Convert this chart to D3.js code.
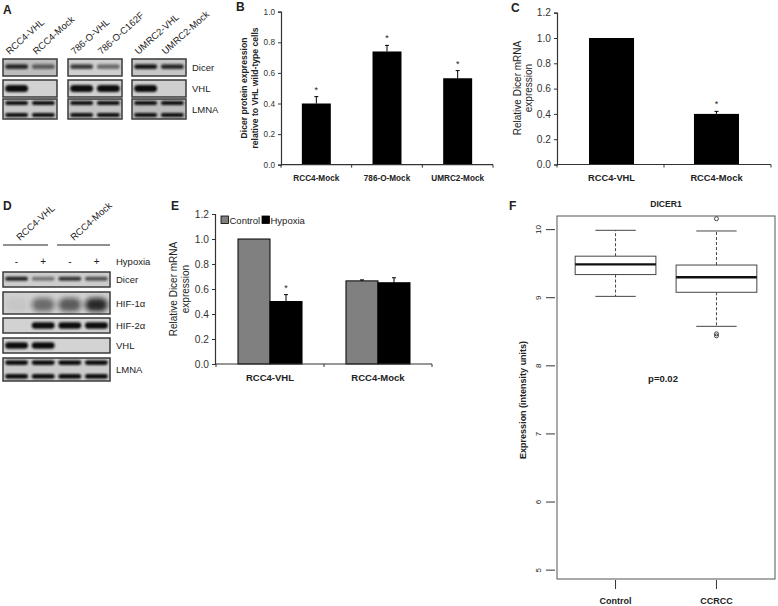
<!DOCTYPE html>
<html><head><meta charset="utf-8">
<script src="https://cdn.jsdelivr.net/npm/d3@7"></script>
<style>
body{margin:0;background:#fff}
svg{display:block}
text{font-family:"Liberation Sans",Arial,Helvetica,sans-serif;fill:#222}
</style>
</head><body>
<svg id="c" width="778" height="606"></svg>
<script>
// ---------------- DATA ----------------
const laneLabelsA = ["RCC4-VHL","RCC4-Mock","786-O-VHL","786-O-C162F","UMRC2-VHL","UMRC2-Mock"];
const blotRowsA = ["Dicer","VHL","LMNA"];
const dicerBandsA = [0.85,0.55,0.75,0.5,0.95,0.85];
const vhlBandsA = [1,0,1,1,1,0];
const lmnaBandsA = [1,1,1,1,1,1];

const catsB = ["RCC4-Mock","786-O-Mock","UMRC2-Mock"];
const valsB = [0.40,0.74,0.565];
const errB = [0.045,0.04,0.05];
const ticksB = [0,0.2,0.4,0.6,0.8,1.0];

const catsC = ["RCC4-VHL","RCC4-Mock"];
const valsC = [1.0,0.40];
const errC = [0,0.02];
const ticksC = [0,0.2,0.4,0.6,0.8,1.0,1.2];

const groupsD = ["RCC4-VHL","RCC4-Mock"];
const hypoxiaD = ["-","+","-","+"];
const blotRowsD = ["Dicer","HIF-1\u03b1","HIF-2\u03b1","VHL","LMNA"];
const dicerBandsD = [0.9,0.45,0.8,0.65];
const hif1BandsD = [0.06,0.6,0.7,1.0];
const hif2BandsD = [0,1,1,1];
const vhlBandsD = [1,1,0,0];
const lmnaBandsD = [1,1,1,1];

const catsE = ["RCC4-VHL","RCC4-Mock"];
const seriesE = ["Control","Hypoxia"];
const controlE = [1.0,0.665];
const hypoxiaE = [0.50,0.65];
const controlErrE = [0,0.008];
const hypoxiaErrE = [0.055,0.04];
const ticksE = [0,0.2,0.4,0.6,0.8,1.0,1.2];

const groupsF = ["Control","CCRCC"];
const whiskerLowF = [9.02,8.58];
const q1F = [9.34,9.08];
const medianF = [9.49,9.30];
const q3F = [9.61,9.48];
const whiskerHighF = [9.99,9.98];
const outliersF = [[],[10.16,8.47,8.44]];
const ticksF = [5,6,7,8,9,10];

// ---------------- SETUP ----------------
const svg = d3.select("#c");
const defs = svg.append("defs");
defs.append("filter").attr("id","blur").attr("x","-30%").attr("y","-100%").attr("width","160%").attr("height","300%")
  .append("feGaussianBlur").attr("stdDeviation",0.9);
defs.append("filter").attr("id","smear").attr("x","-30%").attr("y","-100%").attr("width","160%").attr("height","300%")
  .append("feGaussianBlur").attr("stdDeviation",2.6);

function label(g,x,y,s,size,opt={}){
  const t=g.append("text").attr("x",x).attr("y",y).text(s).attr("font-size",size)
    .attr("text-anchor",opt.anchor||"start");
  if(opt.bold) t.attr("font-weight","bold");
  if(opt.rotate!==undefined) t.attr("transform",`rotate(${opt.rotate},${x},${y})`);
  return t;
}

let clipN=0;
function blot(g,x0,x1,y0,y1,vals,kind,bg){
  const id="clip"+(clipN++);
  defs.append("clipPath").attr("id",id).append("rect")
    .attr("x",x0).attr("y",y0).attr("width",x1-x0).attr("height",y1-y0);
  g.append("rect").attr("x",x0).attr("y",y0).attr("width",x1-x0).attr("height",y1-y0).attr("fill",bg);
  const lanes=d3.scaleBand().domain(d3.range(vals.length)).range([x0,x1]).paddingInner(0.14).paddingOuter(0.08);
  const inner=g.append("g").attr("clip-path",`url(#${id})`);
  const h=y1-y0;
  const spec = kind==="double" ? [[0.2,0.2],[0.8,0.2]]
             : kind==="smear" ? [[0.58,0.62]]
             : kind==="thin" ? [[0.45,0.28]] : [[0.5,0.42]];
  vals.forEach((v,i)=>{
    if(v<=0) return;
    spec.forEach(([cy,hf])=>{
      const bh=hf*h;
      inner.append("rect").attr("x",lanes(i)).attr("width",lanes.bandwidth())
        .attr("y",y0+cy*h-bh/2).attr("height",bh).attr("rx",bh/2)
        .attr("fill","#111").attr("opacity",kind==="smear"?v*0.85:v)
        .attr("filter",kind==="smear"?"url(#smear)":"url(#blur)");
    });
  });
  g.append("rect").attr("x",x0).attr("y",y0).attr("width",x1-x0).attr("height",y1-y0)
    .attr("fill","none").attr("stroke","#3a3a3a").attr("stroke-width",1.5);
}

function yAxis(g,y,ticks,x,size,fmt){
  const ax=d3.axisLeft(y).tickValues(ticks).tickFormat(fmt||d3.format(".1f")).tickSize(3).tickPadding(3);
  const a=g.append("g").attr("transform",`translate(${x},0)`).call(ax);
  a.selectAll("text").attr("font-size",size).style("fill","#333");
  a.select(".domain").attr("stroke","#333").attr("stroke-width",1.2);
  a.selectAll(".tick line").attr("stroke","#333");
  return a;
}
function xBaseline(g,xb,y0){
  const r=xb.range();
  const n=xb.domain().length;
  g.append("line").attr("x1",r[0]).attr("x2",r[1]).attr("y1",y0).attr("y2",y0).attr("stroke","#333").attr("stroke-width",1.2);
  const bounds=d3.range(n+1).map(i=>r[0]+(r[1]-r[0])*i/n);
  g.selectAll(null).data(bounds).enter().append("line")
    .attr("x1",d=>d).attr("x2",d=>d).attr("y1",y0).attr("y2",y0+3).attr("stroke","#333");
}

// ---------------- PANEL A ----------------
const gA=svg.append("g");
label(gA,3,14,"A",12,{bold:true});
const boxesA=[[3,57],[68,122],[132,186]];
const rowsA=[[59,76],[80,97],[99,119]];
const bgA=[["#bdbdbd","#cfcfcf","#c6c6c6"],["#d2d2d2","#d0d0d0","#cfcfcf"],["#c9c9c9","#c4c4c4","#bcbcbc"]];
const bandSetsA=[dicerBandsA,vhlBandsA,lmnaBandsA];
const kindsA=["thin","single","double"];
rowsA.forEach((r,ri)=>{
  boxesA.forEach((b,bi)=>{
    blot(gA,b[0],b[1],r[0],r[1],bandSetsA[ri].slice(bi*2,bi*2+2),kindsA[ri],bgA[ri][bi]);
  });
  label(gA,192,(r[0]+r[1])/2+3.5,blotRowsA[ri],9.5);
});
laneLabelsA.forEach((s,i)=>{
  const b=boxesA[Math.floor(i/2)];
  const cx=b[0]+(b[1]-b[0])*(i%2===0?0.25:0.75);
  label(gA,cx-7,55,s,9.5,{rotate:-42});
});

// ---------------- PANEL B ----------------
const gB=svg.append("g");
label(gB,236,11,"B",12,{bold:true});
const yB=d3.scaleLinear().domain([0,1]).range([164.7,11.7]);
const xB=d3.scaleBand().domain(catsB).range([281,493]).paddingInner(0.59).paddingOuter(0.295);
gB.selectAll(".barB").data(catsB).enter().append("rect")
  .attr("x",d=>xB(d)).attr("width",xB.bandwidth())
  .attr("y",(d,i)=>yB(valsB[i])).attr("height",(d,i)=>yB(0)-yB(valsB[i])).attr("fill","#000");
catsB.forEach((c,i)=>{
  const cx=xB(c)+xB.bandwidth()/2, top=yB(valsB[i]+errB[i]);
  gB.append("line").attr("x1",cx).attr("x2",cx).attr("y1",yB(valsB[i])).attr("y2",top).attr("stroke","#000");
  gB.append("line").attr("x1",cx-2).attr("x2",cx+2).attr("y1",top).attr("y2",top).attr("stroke","#000");
  label(gB,cx,top-4,"*",9,{anchor:"middle"});
  label(gB,cx,181,c,8.2,{anchor:"middle",bold:true});
});
yAxis(gB,yB,ticksB,281,8.2);
xBaseline(gB,xB,yB(0));
label(gB,246.5,88,"Dicer protein expression",8.6,{anchor:"middle",bold:true,rotate:-90});
label(gB,257.5,88,"relative to VHL wild-type cells",8.6,{anchor:"middle",bold:true,rotate:-90});

// ---------------- PANEL C ----------------
const gC=svg.append("g");
label(gC,511,12,"C",12,{bold:true});
const yC=d3.scaleLinear().domain([0,1.2]).range([164.5,12.7]);
const xC=d3.scaleBand().domain(catsC).range([557,771]).paddingInner(0.571).paddingOuter(0.305);
gC.selectAll(".barC").data(catsC).enter().append("rect")
  .attr("x",d=>xC(d)).attr("width",xC.bandwidth())
  .attr("y",(d,i)=>yC(valsC[i])).attr("height",(d,i)=>yC(0)-yC(valsC[i])).attr("fill","#000");
catsC.forEach((c,i)=>{
  const cx=xC(c)+xC.bandwidth()/2;
  if(errC[i]>0){
    const top=yC(valsC[i]+errC[i]);
    gC.append("line").attr("x1",cx).attr("x2",cx).attr("y1",yC(valsC[i])).attr("y2",top).attr("stroke","#000");
    gC.append("line").attr("x1",cx-2).attr("x2",cx+2).attr("y1",top).attr("y2",top).attr("stroke","#000");
    label(gC,cx,top-4,"*",9,{anchor:"middle"});
  }
  label(gC,cx,181,c,9.3,{anchor:"middle",bold:true});
});
yAxis(gC,yC,ticksC,557,10.2);
xBaseline(gC,xC,yC(0));
label(gC,521,88,"Relative Dicer mRNA",10,{anchor:"middle",rotate:-90});
label(gC,532,88,"expression",10,{anchor:"middle",rotate:-90});

// ---------------- PANEL D ----------------
const gD=svg.append("g");
label(gD,3,210,"D",12,{bold:true});
const xD0=3,xD1=110;
const lanesD=d3.scaleBand().domain(d3.range(hypoxiaD.length)).range([xD0,xD1]);
const rowsD=[[272,287],[292,314],[318,333],[338,353],[358,381]];
const bandSetsD=[dicerBandsD,hif1BandsD,hif2BandsD,vhlBandsD,lmnaBandsD];
const kindsD=["thin","smear","single","single","double"];
const bgD=["#cdcdcd","#d0d0d0","#d2d2d2","#d3d3d3","#cbcbcb"];
rowsD.forEach((r,ri)=>{
  blot(gD,xD0,xD1,r[0],r[1],bandSetsD[ri],kindsD[ri],bgD[ri]);
  label(gD,116,(r[0]+r[1])/2+3.5,blotRowsD[ri],9.5);
});
hypoxiaD.forEach((s,i)=>{
  label(gD,lanesD(i)+lanesD.bandwidth()/2,265,s,10,{anchor:"middle"});
});
label(gD,116,265,"Hypoxia",9.5);
const groupLinesD=[[3,48],[57,110]];
groupsD.forEach((s,i)=>{
  const gl=groupLinesD[i];
  gD.append("line").attr("x1",gl[0]).attr("x2",gl[1]).attr("y1",245).attr("y2",245).attr("stroke","#222").attr("stroke-width",1.2);
  label(gD,gl[0]+17,241,s,9.5,{rotate:-42});
});

// ---------------- PANEL E ----------------
const gE=svg.append("g");
label(gE,171,210,"E",12,{bold:true});
const yE=d3.scaleLinear().domain([0,1.2]).range([364,214]);
const xE=d3.scaleBand().domain(catsE).range([216,432]).paddingInner(0.407).paddingOuter(0.2037);
const xE2=d3.scaleBand().domain(seriesE).range([0,xE.bandwidth()]);
const colorsE={"Control":"#808080","Hypoxia":"#000"};
const valsE={"Control":controlE,"Hypoxia":hypoxiaE};
const errsE={"Control":controlErrE,"Hypoxia":hypoxiaErrE};
catsE.forEach((c,i)=>{
  seriesE.forEach(s=>{
    const v=valsE[s][i], x=xE(c)+xE2(s);
    gE.append("rect").attr("x",x).attr("width",xE2.bandwidth()).attr("y",yE(v)).attr("height",yE(0)-yE(v))
      .attr("fill",colorsE[s]).attr("stroke","#000").attr("stroke-width",1);
    const e=errsE[s][i];
    if(e>0){
      const cx=x+xE2.bandwidth()/2, top=yE(v+e);
      gE.append("line").attr("x1",cx).attr("x2",cx).attr("y1",yE(v)).attr("y2",top).attr("stroke","#000");
      gE.append("line").attr("x1",cx-2).attr("x2",cx+2).attr("y1",top).attr("y2",top).attr("stroke","#000");
    }
  });
  label(gE,xE(c)+xE.bandwidth()/2,381,c,9.5,{anchor:"middle",bold:true});
});
{
  const cx=xE("RCC4-VHL")+xE2("Hypoxia")+xE2.bandwidth()/2;
  label(gE,cx,yE(hypoxiaE[0]+hypoxiaErrE[0])-4,"*",9,{anchor:"middle"});
}
yAxis(gE,yE,ticksE,215,10.2);
xBaseline(gE,xE,yE(0));
label(gE,177,289,"Relative Dicer mRNA",10,{anchor:"middle",rotate:-90});
label(gE,188.5,289,"expression",10,{anchor:"middle",rotate:-90});
// legend
const legX=[221,262];
seriesE.forEach((s,i)=>{
  gE.append("rect").attr("x",legX[i]).attr("y",216).attr("width",7.5).attr("height",7.5)
    .attr("fill",colorsE[s]).attr("stroke","#000").attr("stroke-width",0.8);
  label(gE,legX[i]+8.5,224,s,9.5);
});

// ---------------- PANEL F ----------------
const gF=svg.append("g");
label(gF,509,210,"F",12,{bold:true});
const yF=d3.scaleLinear().domain([4.87,10.2]).range([579,216]);
const xF=d3.scaleLinear().domain([0.42,2.58]).range([557,775]);
gF.append("rect").attr("x",557).attr("y",216).attr("width",218).attr("height",363)
  .attr("fill","none").attr("stroke","#555").attr("stroke-width",1);
const bw=(xF(1.4)-xF(1));
groupsF.forEach((gname,i)=>{
  const cx=xF(i+1);
  gF.append("line").attr("x1",cx).attr("x2",cx).attr("y1",yF(q3F[i])).attr("y2",yF(whiskerHighF[i]))
    .attr("stroke","#444").attr("stroke-dasharray","3,2");
  gF.append("line").attr("x1",cx).attr("x2",cx).attr("y1",yF(q1F[i])).attr("y2",yF(whiskerLowF[i]))
    .attr("stroke","#444").attr("stroke-dasharray","3,2");
  [whiskerHighF[i],whiskerLowF[i]].forEach(v=>{
    gF.append("line").attr("x1",cx-bw/2).attr("x2",cx+bw/2).attr("y1",yF(v)).attr("y2",yF(v)).attr("stroke","#444");
  });
  gF.append("rect").attr("x",cx-bw).attr("width",2*bw).attr("y",yF(q3F[i])).attr("height",yF(q1F[i])-yF(q3F[i]))
    .attr("fill","#fff").attr("stroke","#444");
  gF.append("line").attr("x1",cx-bw).attr("x2",cx+bw).attr("y1",yF(medianF[i])).attr("y2",yF(medianF[i]))
    .attr("stroke","#111").attr("stroke-width",2.4);
  outliersF[i].forEach(v=>{
    gF.append("circle").attr("cx",cx).attr("cy",yF(v)).attr("r",2).attr("fill","none").attr("stroke","#333").attr("stroke-width",0.9);
  });
  gF.append("line").attr("x1",cx).attr("x2",cx).attr("y1",580).attr("y2",589).attr("stroke","#333");
  label(gF,cx,604,gname,9,{anchor:"middle",bold:true});
});
ticksF.forEach(t=>{
  gF.append("line").attr("x1",546).attr("x2",555).attr("y1",yF(t)).attr("y2",yF(t)).attr("stroke","#333");
  label(gF,541,yF(t),String(t),8,{anchor:"middle",rotate:-90});
});
label(gF,666,207,"DICER1",8.6,{anchor:"middle",bold:true});
label(gF,663,382,"p=0.02",9.5,{anchor:"middle",bold:true});
label(gF,526,(yF(5)+yF(10))/2,"Expression (intensity units)",9,{anchor:"middle",bold:true,rotate:-90});
</script>
</body></html>
